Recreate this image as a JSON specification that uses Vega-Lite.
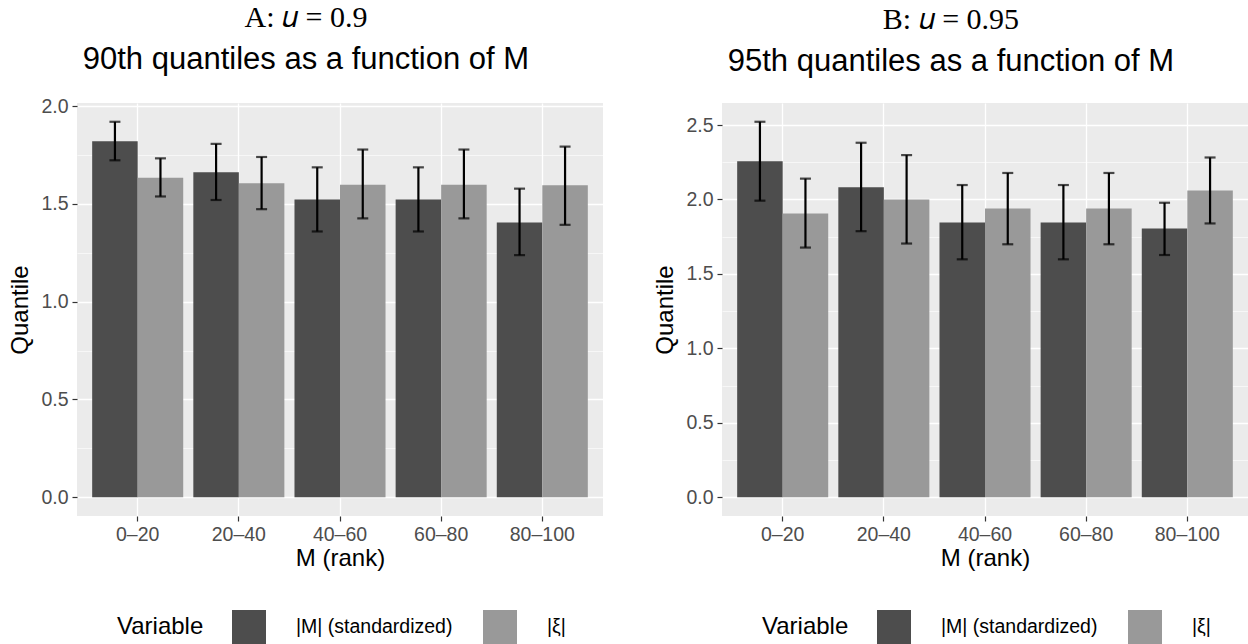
{
  "$schema": "https://vega.github.io/schema/vega-lite/v6.json",
  "background": "white",
  "padding": {"left": 8, "top": 3, "right": 0, "bottom": 0},
  "datasets": {
    "A": [
      {"grp": "0–20", "variable": "|M| (standardized)", "value": 1.82, "lo": 1.723, "hi": 1.92},
      {"grp": "0–20", "variable": "|ξ|", "value": 1.634, "lo": 1.538, "hi": 1.733},
      {"grp": "20–40", "variable": "|M| (standardized)", "value": 1.662, "lo": 1.52, "hi": 1.807},
      {"grp": "20–40", "variable": "|ξ|", "value": 1.605, "lo": 1.473, "hi": 1.74},
      {"grp": "40–60", "variable": "|M| (standardized)", "value": 1.523, "lo": 1.359, "hi": 1.687},
      {"grp": "40–60", "variable": "|ξ|", "value": 1.598, "lo": 1.426, "hi": 1.778},
      {"grp": "60–80", "variable": "|M| (standardized)", "value": 1.523, "lo": 1.359, "hi": 1.687},
      {"grp": "60–80", "variable": "|ξ|", "value": 1.598, "lo": 1.426, "hi": 1.778},
      {"grp": "80–100", "variable": "|M| (standardized)", "value": 1.405, "lo": 1.238, "hi": 1.578},
      {"grp": "80–100", "variable": "|ξ|", "value": 1.595, "lo": 1.393, "hi": 1.793}
    ],
    "B": [
      {"grp": "0–20", "variable": "|M| (standardized)", "value": 2.257, "lo": 1.992, "hi": 2.522},
      {"grp": "0–20", "variable": "|ξ|", "value": 1.906, "lo": 1.677, "hi": 2.14},
      {"grp": "20–40", "variable": "|M| (standardized)", "value": 2.082, "lo": 1.787, "hi": 2.381},
      {"grp": "20–40", "variable": "|ξ|", "value": 2.0, "lo": 1.704, "hi": 2.298},
      {"grp": "40–60", "variable": "|M| (standardized)", "value": 1.846, "lo": 1.598, "hi": 2.097},
      {"grp": "40–60", "variable": "|ξ|", "value": 1.94, "lo": 1.699, "hi": 2.178},
      {"grp": "60–80", "variable": "|M| (standardized)", "value": 1.846, "lo": 1.598, "hi": 2.097},
      {"grp": "60–80", "variable": "|ξ|", "value": 1.94, "lo": 1.699, "hi": 2.178},
      {"grp": "80–100", "variable": "|M| (standardized)", "value": 1.805, "lo": 1.627, "hi": 1.978},
      {"grp": "80–100", "variable": "|ξ|", "value": 2.061, "lo": 1.839, "hi": 2.282}
    ]
  },
  "config": {
    "font": "Liberation Sans",
    "view": {"fill": "#EBEBEB", "stroke": null},
    "axis": {
      "labelFont": "Liberation Sans", "labelFontSize": 19.5, "labelColor": "#4D4D4D",
      "titleFont": "Liberation Sans", "titleFontSize": 24, "titleFontWeight": "normal", "titleColor": "black",
      "tickColor": "#333333", "tickSize": 5, "tickWidth": 1.2, "domain": false,
      "gridColor": "white", "gridWidth": 1.3, "labelPadding": 4
    },
    "title": {
      "font": "Liberation Serif", "fontSize": 30, "fontWeight": "normal", "color": "black",
      "subtitleFont": "Liberation Sans", "subtitleFontSize": 31, "subtitleColor": "black",
      "subtitlePadding": 12, "anchor": "middle", "frame": "bounds"
    },
    "legend": {
      "orient": "none", "direction": "horizontal", "titleOrient": "left",
      "titleFont": "Liberation Sans", "titleFontSize": 24, "titleFontWeight": "normal", "titleColor": "black",
      "labelFont": "Liberation Sans", "labelFontSize": 19.5, "labelColor": "black",
      "symbolType": "square", "symbolSize": 1156, "symbolStrokeWidth": 0, "symbolOpacity": 1,
      "labelOffset": 30, "columnPadding": 30, "titlePadding": 28, "titleBaseline": "middle", "titleAnchor": "middle"
    }
  },
  "hconcat": [
    {
      "title": {"text": "A: 𝑢 = 0.9", "subtitle": "90th quantiles as a function of M", "offset": 21},
      "data": {"name": "A"},
      "width": 526, "height": 413,
      "encoding": {
        "x": {"field": "grp", "type": "nominal", "sort": null,
              "scale": {"paddingInner": 0.1, "paddingOuter": 0.15},
              "axis": {"title": "M (rank)", "labelAngle": 0, "grid": true, "titlePadding": 3}},
        "xOffset": {"field": "variable", "type": "nominal", "scale": {"paddingInner": 0, "paddingOuter": 0}}
      },
      "layer": [
        {
          "mark": {"type": "bar"},
          "encoding": {
            "y": {"field": "value", "type": "quantitative",
                  "scale": {"domain": [-0.096, 2.016], "nice": false, "zero": false},
                  "axis": {"title": "Quantile", "values": [0, 0.5, 1, 1.5, 2], "format": ".1f", "grid": true, "titlePadding": 8}},
            "y2": {"datum": 0},
            "color": {"field": "variable", "type": "nominal",
                      "scale": {"range": ["#4D4D4D", "#999999"]},
                      "legend": {"title": "Variable", "legendX": 40, "legendY": 507}}
          }
        },
        {
          "mark": {"type": "rule", "color": "black", "strokeWidth": 2.2},
          "encoding": {
            "y": {"field": "lo", "type": "quantitative",
                  "axis": {"orient": "right", "values": [0.25, 0.75, 1.25, 1.75], "grid": true, "gridWidth": 0.6,
                           "labels": false, "ticks": false, "domain": false, "title": null}},
            "y2": {"field": "hi"}
          }
        },
        {
          "mark": {"type": "tick", "color": "black", "thickness": 2.2, "size": 11},
          "encoding": {"y": {"field": "lo", "type": "quantitative", "axis": null}}
        },
        {
          "mark": {"type": "tick", "color": "black", "thickness": 2.2, "size": 11},
          "encoding": {"y": {"field": "hi", "type": "quantitative", "axis": null}}
        }
      ],
      "resolve": {"axis": {"y": "independent"}}
    },
    {
      "title": {"text": "B: 𝑢 = 0.95", "subtitle": "95th quantiles as a function of M", "offset": 26},
      "data": {"name": "B"},
      "width": 526, "height": 413,
      "encoding": {
        "x": {"field": "grp", "type": "nominal", "sort": null,
              "scale": {"paddingInner": 0.1, "paddingOuter": 0.15},
              "axis": {"title": "M (rank)", "labelAngle": 0, "grid": true, "titlePadding": 3}},
        "xOffset": {"field": "variable", "type": "nominal", "scale": {"paddingInner": 0, "paddingOuter": 0}}
      },
      "layer": [
        {
          "mark": {"type": "bar"},
          "encoding": {
            "y": {"field": "value", "type": "quantitative",
                  "scale": {"domain": [-0.126, 2.648], "nice": false, "zero": false},
                  "axis": {"title": "Quantile", "values": [0, 0.5, 1, 1.5, 2, 2.5], "format": ".1f", "grid": true, "titlePadding": 8}},
            "y2": {"datum": 0},
            "color": {"field": "variable", "type": "nominal",
                      "scale": {"range": ["#4D4D4D", "#999999"]},
                      "legend": {"title": "Variable", "legendX": 40, "legendY": 507}}
          }
        },
        {
          "mark": {"type": "rule", "color": "black", "strokeWidth": 2.2},
          "encoding": {
            "y": {"field": "lo", "type": "quantitative",
                  "axis": {"orient": "right", "values": [0.25, 0.75, 1.25, 1.75, 2.25], "grid": true, "gridWidth": 0.6,
                           "labels": false, "ticks": false, "domain": false, "title": null}},
            "y2": {"field": "hi"}
          }
        },
        {
          "mark": {"type": "tick", "color": "black", "thickness": 2.2, "size": 11},
          "encoding": {"y": {"field": "lo", "type": "quantitative", "axis": null}}
        },
        {
          "mark": {"type": "tick", "color": "black", "thickness": 2.2, "size": 11},
          "encoding": {"y": {"field": "hi", "type": "quantitative", "axis": null}}
        }
      ],
      "resolve": {"axis": {"y": "independent"}}
    }
  ],
  "spacing": 50,
  "resolve": {"legend": {"color": "independent"}}
}
